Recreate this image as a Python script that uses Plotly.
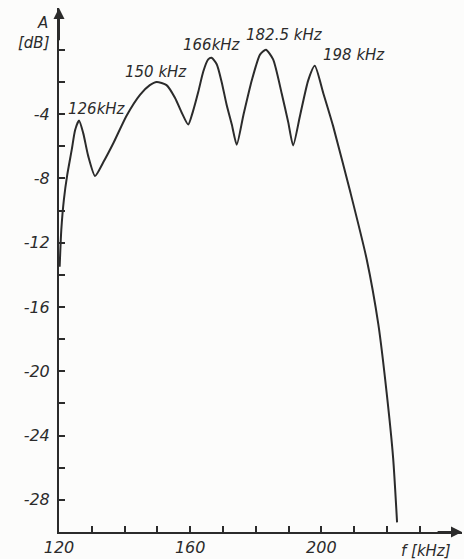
import plotly.graph_objects as go

# Frequency response curve
freq_khz = [120.2, 120.7, 121.5, 122.5, 123.9, 124.9, 126.1, 127.4, 128.9, 131.0,
            133.5, 136.6, 140.6, 144.7, 147.7, 149.8, 152.8, 155.4, 157.4, 159.4,
            160.9, 162.5, 164.0, 165.5, 166.5, 168.1, 169.6, 171.1, 172.7, 174.2,
            176.2, 178.8, 181.3, 183.1, 185.3, 187.9, 189.9, 191.4, 193.5, 196.0,
            198.0, 200.6, 203.6, 208.9, 213.8, 217.4, 219.9, 221.9, 223.1]
amp_db = [-13.5, -11.2, -9.3, -7.8, -6.2, -5.0, -4.4, -5.2, -6.6, -7.85,
          -7.0, -5.8, -4.1, -2.8, -2.2, -2.0, -2.2, -3.0, -3.9, -4.65,
          -3.8, -2.6, -1.35, -0.6, -0.5, -0.9, -2.0, -3.4, -4.65, -5.9,
          -4.1, -1.9, -0.3, 0.0, -0.6, -2.7, -4.5, -5.95, -4.1, -1.9,
          -1.0, -2.7, -4.75, -8.9, -13.0, -17.1, -21.3, -25.4, -29.4]

# Peak labels
peak_labels = ["126kHz", "150 kHz", "166kHz", "182.5 kHz", "198 kHz"]
peak_label_x = [131.7, 149.6, 166.6, 188.75, 209.9]
peak_label_y = [-3.66, -1.36, 0.31, 0.93, -0.31]

# Axis ticks
y_tick_vals = [-4, -8, -12, -16, -20, -24, -28]
y_tick_text = ["-4", "-8", "-12", "-16", "-20", "-24", "-28"]
y_minor_vals = [0, -2, -6, -10, -14, -18, -22, -26]
x_tick_vals = [120, 160, 200]
x_tick_text = ["120", "160", "200"]
x_minor_vals = [130, 140, 150, 170, 180, 190, 210, 220, 230]

X_RANGE = [120, 242.9]
Y_RANGE = [-30, 2.6]

INK = "#2b2b2b"
FONT = dict(family="DejaVu Sans", size=15, color=INK, style="italic")

fig = go.Figure()
fig.add_trace(go.Scatter(
    x=freq_khz, y=amp_db, mode="lines",
    line=dict(color=INK, width=2, shape="spline", smoothing=0.6),
    hoverinfo="skip", showlegend=False, cliponaxis=False,
))

annotations = []
for t, x, y in zip(peak_labels, peak_label_x, peak_label_y):
    annotations.append(dict(x=x, y=y, xref="x", yref="y", text=t, showarrow=False,
                            font=FONT, xanchor="center", yanchor="middle"))

# axis labels (paper coordinates, outside the plotting area)
annotations.append(dict(x=-0.042, y=0.971, xref="paper", yref="paper", text="A",
                        showarrow=False, font=FONT, xanchor="center", yanchor="middle"))
annotations.append(dict(x=-0.017, y=0.933, xref="paper", yref="paper", text="[dB]",
                        showarrow=False, font=FONT, xanchor="right", yanchor="middle"))
annotations.append(dict(x=0.911, y=-0.036, xref="paper", yref="paper", text="f [kHz]",
                        showarrow=False, font=FONT, xanchor="center", yanchor="middle"))

# axis arrowheads
annotations.append(dict(x=120, y=Y_RANGE[1], ax=120, ay=0.5, xref="x", yref="y",
                        axref="x", ayref="y", showarrow=True, arrowhead=2, arrowsize=1.1,
                        arrowwidth=2, arrowcolor=INK, text=""))
annotations.append(dict(x=X_RANGE[1], y=-30, ax=235, ay=-30, xref="x", yref="y",
                        axref="x", ayref="y", showarrow=True, arrowhead=2, arrowsize=1.1,
                        arrowwidth=2, arrowcolor=INK, text=""))

fig.update_layout(
    width=464, height=559,
    margin=dict(l=59, r=2, t=8, b=25),
    paper_bgcolor="#fcfcfb", plot_bgcolor="#fcfcfb",
    annotations=annotations,
    font=FONT,
)
fig.update_xaxes(
    range=X_RANGE, showgrid=False, zeroline=False,
    showline=True, linecolor=INK, linewidth=2,
    tickmode="array", tickvals=x_tick_vals, ticktext=x_tick_text,
    ticks="inside", ticklen=6, tickwidth=1.5, tickcolor=INK,
    tickfont=dict(family="DejaVu Sans", size=16, color=INK, style="italic"),
    minor=dict(tickmode="array", tickvals=x_minor_vals, ticks="inside", ticklen=6,
               tickwidth=1.5, tickcolor=INK, showgrid=False),
)
fig.update_yaxes(
    range=Y_RANGE, showgrid=False, zeroline=False,
    showline=True, linecolor=INK, linewidth=2,
    tickmode="array", tickvals=y_tick_vals, ticktext=y_tick_text,
    ticks="inside", ticklen=6, tickwidth=1.5, tickcolor=INK,
    ticklabelstandoff=4,
    tickfont=dict(family="DejaVu Sans", size=16, color=INK, style="italic"),
    minor=dict(tickmode="array", tickvals=y_minor_vals, ticks="inside", ticklen=6,
               tickwidth=1.5, tickcolor=INK, showgrid=False),
)

fig.write_html("out.html")
